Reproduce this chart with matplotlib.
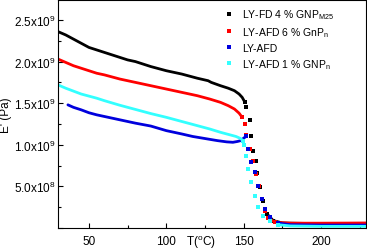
import matplotlib
matplotlib.use("Agg")
import matplotlib.pyplot as plt
from matplotlib.ticker import FuncFormatter, MultipleLocator
import numpy as np

plt.rcParams['font.family'] = ['Liberation Sans', 'DejaVu Sans']
plt.rcParams['mathtext.fontset'] = 'custom'
plt.rcParams['mathtext.rm'] = 'Liberation Sans'
plt.rcParams['mathtext.it'] = 'Liberation Sans'

# ---- data (E' in units of 1e9 Pa) ----
T_black = [30, 35, 40, 45, 50, 55, 60, 65, 70, 75, 80, 90, 100, 110, 120, 127, 129,
           135, 140, 144, 147, 149, 150.5,
           151.7, 153.9, 155, 156, 157.8, 158.6, 160.4, 162.5, 165, 169,
           175, 190, 210, 229]
E_black = [2.36, 2.32, 2.27, 2.22, 2.17, 2.14, 2.11, 2.08, 2.05, 2.02, 2.00, 1.94, 1.89,
           1.85, 1.80, 1.77, 1.75, 1.71, 1.68, 1.65, 1.61, 1.57, 1.52,
           1.45, 1.30, 1.11, 0.93, 0.81, 0.66, 0.49, 0.33, 0.17, 0.09,
           0.06, 0.055, 0.055, 0.056]

T_red = [30, 35, 40, 45, 50, 55, 60, 70, 80, 90, 100, 110, 120, 128, 135, 140, 144,
         147, 149,
         150.6, 151.7, 153.9, 156, 158.2, 159.9, 161.5, 163.6, 166, 170,
         180, 200, 229]
E_red = [2.03, 1.99, 1.95, 1.92, 1.89, 1.86, 1.84, 1.79, 1.75, 1.71, 1.67, 1.63, 1.59,
         1.55, 1.51, 1.47, 1.43, 1.38, 1.33,
         1.25, 1.12, 0.95, 0.81, 0.65, 0.51, 0.35, 0.21, 0.12, 0.07,
         0.058, 0.058, 0.06]

T_blue = [36.4, 40, 45, 50, 55, 60, 70, 80, 90, 100, 110, 117, 125, 133, 139, 143, 146,
          148, 150, 151.5,
          152.8, 155, 157, 159.3, 161.5, 163.6, 166.8, 172,
          180, 200, 229]
E_blue = [1.48, 1.45, 1.42, 1.385, 1.36, 1.34, 1.30, 1.26, 1.225, 1.17, 1.13, 1.10, 1.075,
          1.05, 1.035, 1.03, 1.04, 1.05, 1.08, 1.10,
          0.95, 0.79, 0.67, 0.51, 0.35, 0.23, 0.13, 0.06,
          0.04, 0.035, 0.035]

T_cyan = [30, 35, 40, 45, 50, 55, 60, 70, 80, 90, 100, 110, 120, 128, 135, 140, 145,
          148, 149.5,
          150.3, 151.3, 152.8, 155, 157, 159.3, 162.5, 166.8, 172,
          180, 200, 229]
E_cyan = [1.72, 1.68, 1.645, 1.61, 1.585, 1.56, 1.53, 1.475, 1.425, 1.375, 1.33, 1.28,
          1.23, 1.19, 1.15, 1.125, 1.10, 1.075, 1.05,
          1.0, 0.87, 0.71, 0.55, 0.39, 0.25, 0.15, 0.08, 0.04,
          0.025, 0.02, 0.02]

labels = ["LY-FD 4 % GNP$_{M25}$", "LY-AFD 6 % GnP$_{n}$", "LY-AFD", "LY-AFD 1 % GNP$_{n}$"]
colors = ["#000000", "#ff0000", "#0000dd", "#33ffff"]
series = [(T_black, E_black), (T_red, E_red), (T_blue, E_blue), (T_cyan, E_cyan)]
# temperature window drawn as separate dots (sparse part of the transition)
drop_windows = [(151, 170), (150, 171), (152, 173), (150, 173)]

fig = plt.figure(figsize=(3.67, 2.51), dpi=100)
ax = fig.add_axes([58/367, 22/251, 308/367, 228/251])

for (T, E), c, lab, (t0, t1) in zip(series, colors, labels, drop_windows):
    T = np.asarray(T, float); E = np.asarray(E) * 1e9
    head = T <= t0
    mid = (T >= t0 - 1.5) & (T <= t1)
    tail = T >= t1 - 5
    ax.plot(T[head], E[head], '-', color=c, lw=2.0, solid_capstyle='round',
            solid_joinstyle='round')
    ax.plot(T[mid], E[mid], 's', color=c, ms=2.4, mew=0)
    ax.plot(T[tail], E[tail], '-', color=c, lw=2.0)
    ax.plot([], [], 's', color=c, ms=2.6, mew=0, label=lab)

ax.set_xlim(30, 229)
ax.set_ylim(0, 2.74e9)
ax.xaxis.set_major_locator(MultipleLocator(50))
ax.xaxis.set_minor_locator(MultipleLocator(25))
ax.yaxis.set_major_locator(MultipleLocator(5e8))
ax.yaxis.set_minor_locator(MultipleLocator(2.5e8))

def yfmt(v, pos):
    if v <= 0:
        return ""
    e = int(np.floor(np.log10(v)))
    m = v / 10**e
    return "%.1fx10$^{%d}$" % (m, e)

ax.yaxis.set_major_formatter(FuncFormatter(yfmt))
ax.tick_params(which='both', direction='in', labelsize=8.5, width=0.8)
ax.tick_params(which='major', length=3.5)
ax.tick_params(which='minor', length=2)
ax.tick_params(axis='y', pad=2)
ax.tick_params(axis='x', pad=5)
for s in ax.spines.values():
    s.set_linewidth(0.8)

ax.set_ylabel("E' (Pa)", fontsize=8.5, labelpad=1)
ax.set_xlabel("T($^o$C)", fontsize=8.5)
ax.xaxis.set_label_coords(0.464, -0.022)

ax.legend(loc='upper left', bbox_to_anchor=(0.52, 1.0), frameon=False, fontsize=7.5,
          handlelength=0.6, handletextpad=1.0, labelspacing=0.38, borderaxespad=0.3,
          markerscale=1.0)

fig.savefig("out.png", dpi=100)
